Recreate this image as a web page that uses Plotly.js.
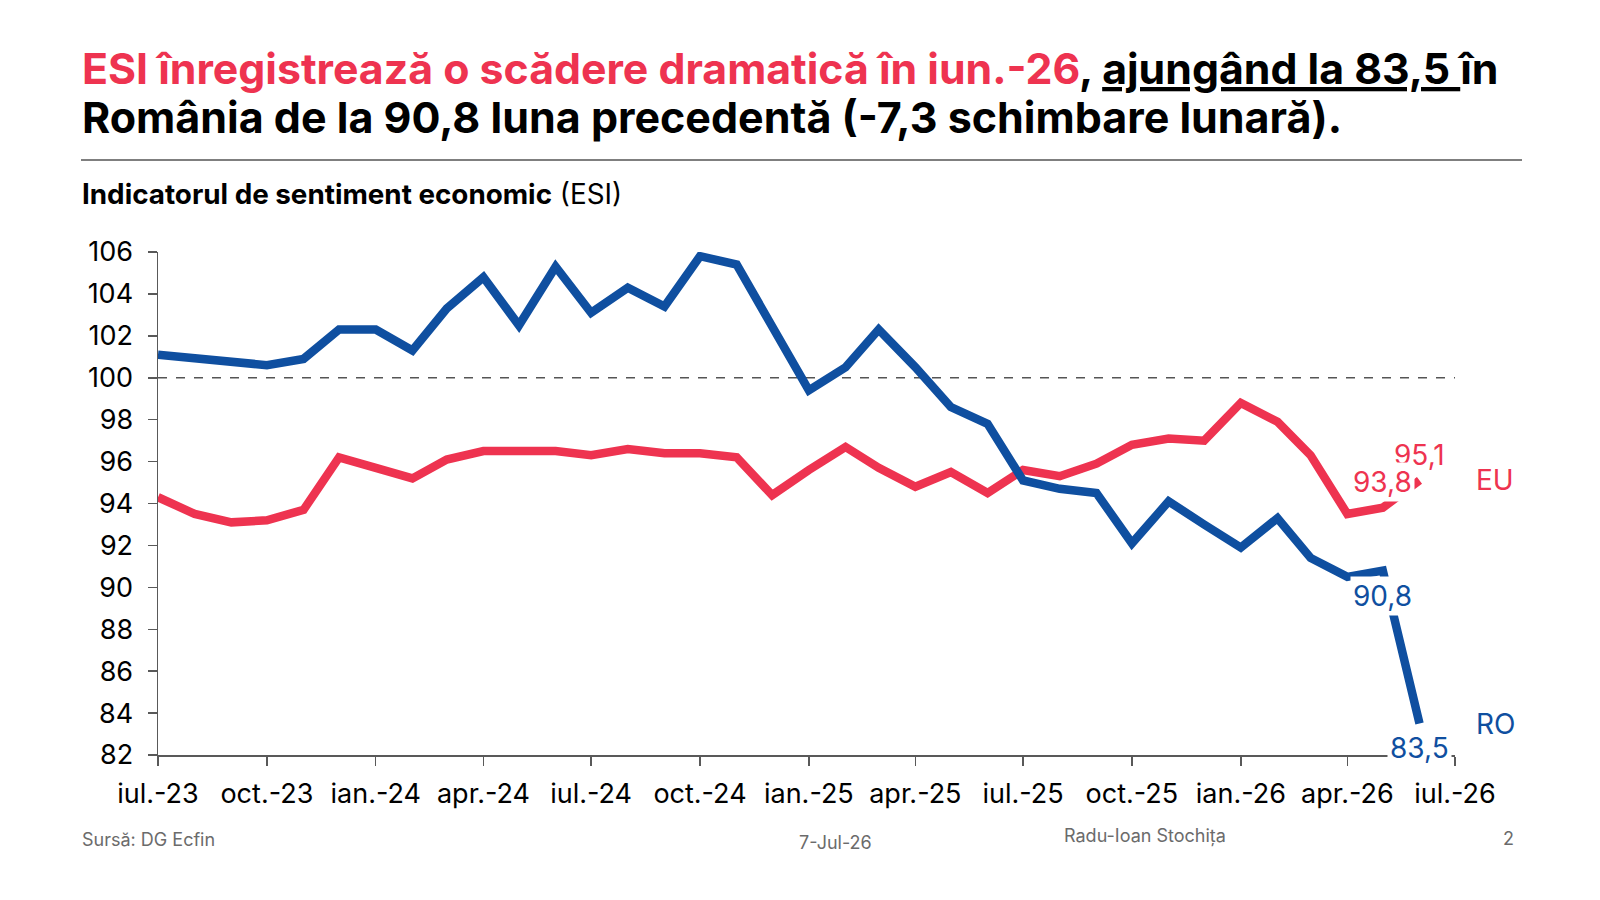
<!DOCTYPE html>
<html>
<head>
<meta charset="utf-8">
<script src="https://cdn.plot.ly/plotly-3.1.2.min.js"></script>
<style>
  html, body { margin: 0; padding: 0; background: #fff; }
  #chart { width: 1600px; height: 900px; }
</style>
</head>
<body>
<div id="chart"></div>
<script>
// Monthly ESI, iul.-23 .. iun.-26
const months = [
  "2023-07-01", "2023-08-01", "2023-09-01", "2023-10-01", "2023-11-01", "2023-12-01",
  "2024-01-01", "2024-02-01", "2024-03-01", "2024-04-01", "2024-05-01", "2024-06-01",
  "2024-07-01", "2024-08-01", "2024-09-01", "2024-10-01", "2024-11-01", "2024-12-01",
  "2025-01-01", "2025-02-01", "2025-03-01", "2025-04-01", "2025-05-01", "2025-06-01",
  "2025-07-01", "2025-08-01", "2025-09-01", "2025-10-01", "2025-11-01", "2025-12-01",
  "2026-01-01", "2026-02-01", "2026-03-01", "2026-04-01", "2026-05-01", "2026-06-01",
];
const roValues = [
  101.1, 100.9, 100.8, 100.6, 100.9, 102.3,
  102.3, 101.3, 103.3, 104.8, 102.5, 105.3,
  103.1, 104.3, 103.4, 105.8, 105.4, 102.4,
  99.4, 100.5, 102.3, 100.5, 98.6, 97.8,
  95.1, 94.7, 94.5, 92.1, 94.1, 93.0,
  91.9, 93.3, 91.4, 90.5, 90.8, 83.5,
];
const euValues = [
  94.3, 93.5, 93.1, 93.2, 93.7, 96.2,
  95.7, 95.2, 96.1, 96.5, 96.5, 96.5,
  96.3, 96.6, 96.4, 96.4, 96.2, 94.4,
  95.6, 96.7, 95.7, 94.8, 95.5, 94.5,
  95.6, 95.3, 95.9, 96.8, 97.1, 97.0,
  98.8, 97.9, 96.3, 93.5, 93.8, 95.1,
];
const tickDates = [
  "2023-07-01", "2023-10-01", "2024-01-01", "2024-04-01", "2024-07-01", "2024-10-01",
  "2025-01-01", "2025-04-01", "2025-07-01", "2025-10-01", "2026-01-01", "2026-04-01",
  "2026-07-01",
];
const tickLabels = [
  "iul.-23", "oct.-23", "ian.-24", "apr.-24", "iul.-24", "oct.-24",
  "ian.-25", "apr.-25", "iul.-25", "oct.-25", "ian.-26", "apr.-26",
  "iul.-26",
];

const RED = "#EE3350";
const BLUE = "#0F4FA0";
const GREY = "#6b6b6b";
const FONT = "Inter, sans-serif";

// plot area in page pixels
const L = 158, R = 1455, T = 252, B = 755;
const px = (x) => (x - L) / (R - L);
const py = (y) => (B - y) / (B - T);

const fmt = (v) => v.toFixed(1).replace(".", ",");
const last = months.length - 1;

const pageText = (x, y, text, opts = {}) => ({
  xref: "paper", yref: "paper",
  x: px(x), y: py(y),
  text,
  showarrow: false,
  xanchor: opts.xanchor || "left",
  yanchor: "middle",
  align: opts.xanchor || "left",
  font: Object.assign({ family: FONT, size: 18, color: GREY }, opts.font || {}),
});

const pointLabel = (i, values, color, yshift, bg = "rgba(0,0,0,0)") => ({
  x: months[i], y: values[i],
  text: fmt(values[i]),
  showarrow: false,
  yshift,
  bgcolor: bg,
  borderpad: 2,
  font: { family: FONT, size: 28, color },
});

const endLabel = (values, text, color) => ({
  x: months[last], y: values[last],
  text, showarrow: false,
  xanchor: "left", xshift: 54,
  font: { family: FONT, size: 28, color },
});

const traces = [
  {
    x: months, y: euValues,
    name: "EU",
    mode: "lines",
    line: { color: RED, width: 8.5 },
  },
  {
    x: months, y: roValues,
    name: "RO",
    mode: "lines",
    line: { color: BLUE, width: 8.5 },
  },
];

const titleLine1 =
  `<span style="color:${RED}">ESI înregistrează o scădere dramatică în iun.-26</span>, ` +
  `<u>ajungând la 83,5 </u>în`;
const titleLine2 = "România de la 90,8 luna precedentă (-7,3 schimbare lunară).";

const axisStyle = {
  ticks: "outside", ticklen: 9, tickwidth: 1.5, tickcolor: "#595959",
  showline: true, linecolor: "#595959", linewidth: 1.5,
  showgrid: false, zeroline: false,
  tickfont: { family: FONT, size: 27, color: "#000" },
  fixedrange: true,
};

const layout = {
  width: 1600, height: 900,
  margin: { l: L, r: 1600 - R, t: T, b: 900 - B, pad: 0 },
  paper_bgcolor: "#fff", plot_bgcolor: "#fff",
  showlegend: false,
  font: { family: FONT, color: "#000" },
  xaxis: Object.assign({
    type: "date",
    range: ["2023-07-01", "2026-07-01"],
    tickmode: "array",
    tickvals: tickDates,
    ticktext: tickLabels,
    ticklabelstandoff: 5,
  }, axisStyle),
  yaxis: Object.assign({
    range: [82, 106],
    tickmode: "linear", tick0: 82, dtick: 2,
    ticklabelstandoff: 9,
  }, axisStyle),
  shapes: [
    // reference line at 100
    {
      type: "line", xref: "paper", yref: "y",
      x0: 0, x1: 1, y0: 100, y1: 100,
      line: { color: "#555", width: 1.5, dash: "dash" },
      layer: "below",
    },
    // rule under the headline
    {
      type: "line", xref: "paper", yref: "paper",
      x0: px(81), x1: px(1522), y0: py(160), y1: py(160),
      line: { color: "#000", width: 1.2 },
    },
  ],
  annotations: [
    pageText(80, 68, titleLine1, { font: { size: 42.8, color: "#000", weight: 700 } }),
    pageText(80, 117, titleLine2, { font: { size: 43, color: "#000", weight: 700 } }),
    pageText(80, 194, "<b>Indicatorul de sentiment economic</b> (ESI)", {
      font: { size: 27.8, color: "#000" },
    }),
    pointLabel(last, euValues, RED, 25),
    pointLabel(last - 1, euValues, RED, 26, "#fff"),
    pointLabel(last - 1, roValues, BLUE, -25, "#fff"),
    pointLabel(last, roValues, BLUE, -24, "#fff"),
    endLabel(euValues, "EU", RED),
    endLabel(roValues, "RO", BLUE),
    pageText(80, 839, "Sursă: DG Ecfin"),
    pageText(835, 842, "7-Jul-26", { xanchor: "center" }),
    pageText(1062, 836, "Radu-Ioan Stochița"),
    pageText(1516, 838, "2", { xanchor: "right" }),
  ],
};

Plotly.newPlot("chart", traces, layout, { displayModeBar: false, staticPlot: true });
</script>
</body>
</html>
